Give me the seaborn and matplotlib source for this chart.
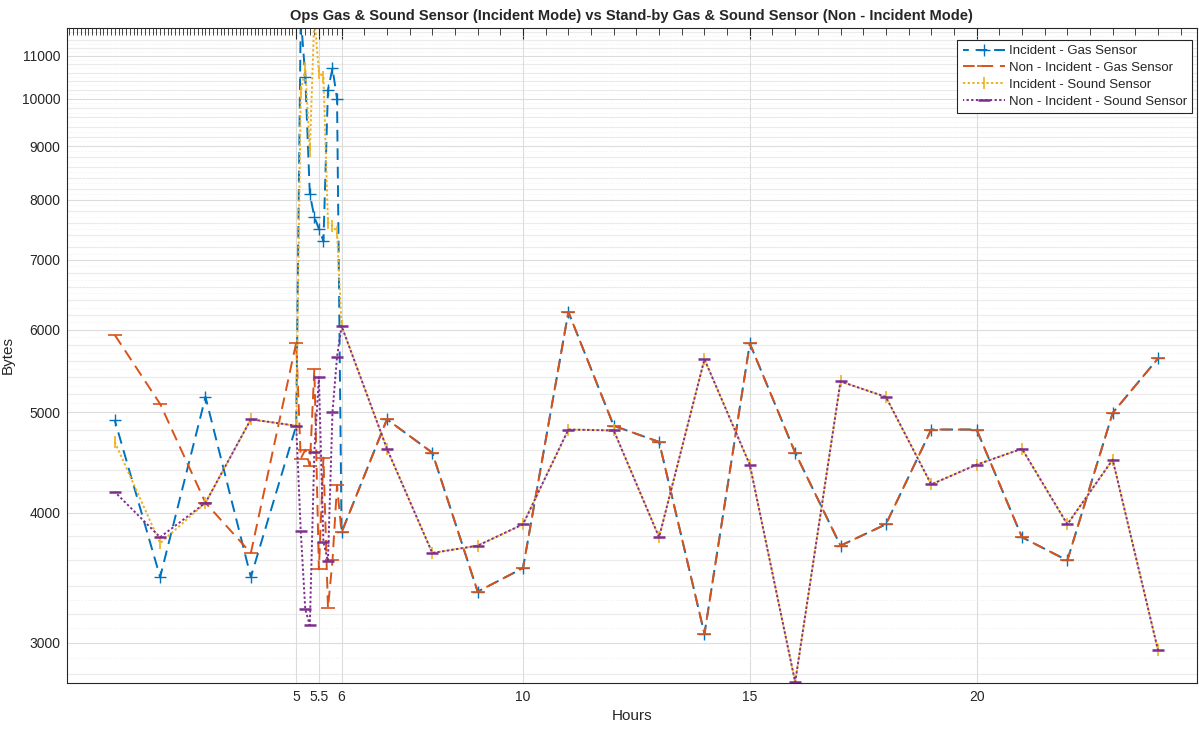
import numpy as np
import pandas as pd
import matplotlib
matplotlib.use("Agg")
import matplotlib.pyplot as plt
import matplotlib.ticker as mticker
import seaborn as sns

hours = [1, 2, 3, 4, 5, 5.1, 5.2, 5.3, 5.4, 5.5, 5.6, 5.7, 5.8, 5.9, 6,
         7, 8, 9, 10, 11, 12, 13, 14, 15, 16, 17, 18, 19, 20, 21, 22, 23, 24]

gas_incident = [4910, 3470, 5170, 3470, 4850, 12000, 10500, 8100, 7700, 7500, 7300, 10200, 10700, 10000, 3830,
                4920, 4570, 3360, 3540, 6240, 4850, 4680, 3060, 5820, 4570, 3720, 3900, 4810, 4810, 3790, 3600, 4990, 5630]
gas_standby = [5930, 5090, 4090, 3660, 5830, 4510, 4600, 4440, 5500, 3530, 4520, 3240, 3600, 4250, 3830,
               4920, 4570, 3360, 3540, 6240, 4850, 4680, 3060, 5820, 4570, 3720, 3900, 4810, 4810, 3790, 3600, 4990, 5630]
sound_incident = [4680, 3740, 4090, 4920, 4850, 10150, 10700, 8900, 12000, 10600, 10500, 7600, 7550, 7450, 6050,
                  4610, 3660, 3720, 3900, 4810, 4800, 3790, 5620, 4450, 2750, 5350, 5170, 4260, 4450, 4610, 3900, 4500, 2950]
sound_standby = [4190, 3790, 4090, 4920, 4850, 3840, 3230, 3120, 4580, 5400, 3750, 3595, 5000, 5650, 6050,
                 4610, 3660, 3720, 3900, 4810, 4800, 3790, 5620, 4450, 2750, 5350, 5170, 4260, 4450, 4610, 3900, 4500, 2950]

series_names = ["Incident - Gas Sensor", "Non - Incident - Gas Sensor",
                "Incident - Sound Sensor", "Non - Incident - Sound Sensor"]
series_values = [gas_incident, gas_standby, sound_incident, sound_standby]

x_labeled = [5, 5.5, 6, 10, 15, 20]
y_labeled = [3000, 4000, 5000, 6000, 7000, 8000, 9000, 10000, 11000]

sns.set_style("white")
plt.rcParams["font.family"] = ["Liberation Sans", "DejaVu Sans"]

fig = plt.figure(figsize=(11.99, 7.34), dpi=100)
ax = fig.add_axes([0.056, 0.0695, 0.942, 0.8925])

colors = ["#0072BD", "#D95319", "#EDB120", "#7E2F8E"]
styles = [
    dict(linestyle=(3, (6, 3.5)), marker="+", markersize=8, mew=1.0),
    dict(linestyle=(0, (6, 3.5)), marker="_", markersize=10, mew=1.2),
    dict(linestyle=(0, (1.2, 1.2)), marker="|", markersize=9, mew=1.2),
    dict(linestyle=(0.6, (1.2, 1.2)), marker="_", markersize=8, mew=1.8),
]

for name, vals, col, st in zip(series_names, series_values, colors, styles):
    df = pd.DataFrame({"Hours": hours, "Bytes": vals})
    sns.lineplot(data=df, x="Hours", y="Bytes", ax=ax, label=name, color=col,
                 markeredgecolor=col, markerfacecolor=col,
                 estimator=None, sort=False, linewidth=1.4, **st)

ax.set_yscale("log")
ax.set_ylim(2745, 11700)
ax.set_xlim(-0.05, 24.85)

# y ticks
ax.yaxis.set_major_locator(mticker.FixedLocator(y_labeled))
ax.yaxis.set_major_formatter(mticker.FuncFormatter(lambda v, p: f"{int(round(v))}"))
ax.yaxis.set_minor_locator(mticker.FixedLocator([v for v in range(2800, 11700, 100) if v % 200]))
ax.yaxis.set_minor_formatter(mticker.NullFormatter())

# x ticks
minor_x = list(np.arange(0, 5, 1 / 12)) + list(np.arange(5, 6, 0.1)) + list(np.arange(6, 25, 0.5))
ax.xaxis.set_major_locator(mticker.FixedLocator(x_labeled))
ax.xaxis.set_major_formatter(mticker.FuncFormatter(lambda v, p: f"{v:g}"))
ax.xaxis.set_minor_locator(mticker.FixedLocator(minor_x))

ax.tick_params(axis="both", which="major", direction="in", length=8, width=0.8,
               labelsize=10, colors="#262626", top=True, pad=5)
ax.tick_params(axis="x", which="minor", direction="in", length=5, width=0.6, top=True)
ax.tick_params(axis="y", which="minor", length=0)

ax.grid(True, which="major", color="#dcdcdc", linewidth=0.8)
ax.grid(True, which="minor", axis="y", color="#ededed", linewidth=0.7, linestyle=(0, (1, 2)))
for v in range(2800, 11700, 200):
    if v % 1000:
        ax.axhline(v, color="#ebebeb", linewidth=0.8, zorder=0)
ax.grid(False, which="minor", axis="x")
ax.set_axisbelow(True)

for s in ax.spines.values():
    s.set_color("#262626")
    s.set_linewidth(0.8)

ax.set_title("Ops Gas & Sound Sensor (Incident Mode) vs Stand-by Gas & Sound Sensor (Non - Incident Mode)",
             fontsize=10.5, fontweight="bold", pad=6)
ax.set_xlabel("Hours", fontsize=11, color="#262626", labelpad=4)
ax.set_ylabel("Bytes", fontsize=11, color="#262626")
ax.yaxis.set_label_coords(-0.046, 0.5)

leg = ax.legend(loc="upper right", bbox_to_anchor=(0.996, 0.982), borderaxespad=0,
                fancybox=False, framealpha=1, edgecolor="#262626", fontsize=9.5,
                handlelength=3.2, handletextpad=0.3, labelspacing=0.35)
leg.get_frame().set_linewidth(0.8)

fig.savefig("out.png", dpi=100)
